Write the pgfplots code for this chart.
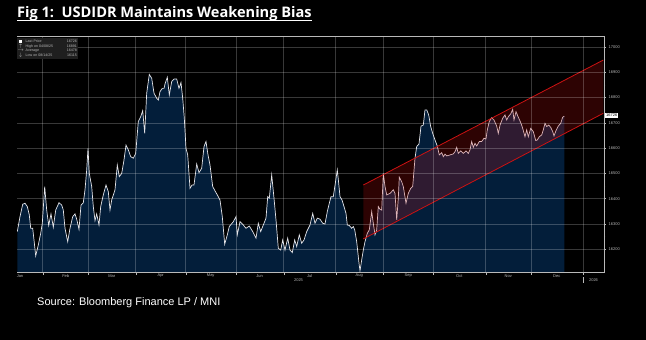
\documentclass[border=0pt]{standalone}
\usepackage{fontspec}
\setmainfont{Liberation Sans}
\newfontfamily\titlefont{Open Sans}
\usepackage{graphicx}
\usepackage{pgfplots}
\pgfplotsset{compat=1.18}
\usepackage{pgfplotstable}
\definecolor{navy}{RGB}{3,30,58}
\definecolor{linecol}{RGB}{228,228,232}
\definecolor{chred}{RGB}{205,18,18}
\definecolor{lblgray}{RGB}{185,185,185}

\pgfplotstableread{
x y
17.3 16270
20 16329
22.7 16378
25 16382
27.3 16369
29.3 16336
30.7 16283
32.7 16283
34 16237
35.7 16174
38.3 16217
40.7 16263
42.3 16303
44.7 16448
46.7 16355
48.7 16294
51 16340
53.3 16287
55.7 16355
59 16384
61.7 16375
63.3 16355
65 16283
67.7 16230
70 16283
72.7 16329
75 16340
76.7 16319
79 16279
81 16375
83.3 16384
85 16435
86.7 16514
88 16599
89.3 16500
91.7 16448
93.3 16369
95 16313
96.7 16340
99 16296
100.7 16369
103.3 16415
106 16454
108.3 16428
110 16355
111.7 16395
115 16435
117.3 16533
119.3 16487
121.7 16500
124 16553
126 16612
128.3 16593
130.7 16566
133.3 16560
135.7 16579
138.3 16705
140.7 16724
142.7 16748
144.7 16658
146.7 16817
149.3 16891
151.7 16876
154 16817
156.7 16797
158.3 16790
160 16823
162.3 16836
164 16836
165 16853
167.3 16880
169.3 16810
171.7 16863
174 16873
176.7 16873
179 16836
181 16859
182.7 16797
184.3 16718
186 16599
187.7 16573
190 16441
192 16454
194 16454
196.7 16537
199 16503
201.7 16520
204 16606
206 16626
208 16573
210 16533
212.7 16448
215 16431
217.3 16415
220 16395
222.3 16329
224.7 16220
227.3 16257
229.3 16290
233.3 16309
236 16329
237.3 16257
240 16309
243.3 16296
246 16283
249.3 16292
252.7 16270
256 16244
258.3 16303
260.7 16270
263.3 16296
266 16323
267.7 16408
269.3 16402
271.7 16494
274 16402
276 16316
278.3 16204
280.7 16197
282.7 16237
285 16197
287.7 16244
290 16197
292.3 16187
294.7 16237
296.7 16211
299.3 16257
301.7 16224
304 16237
306.7 16270
310 16296
312.7 16342
315 16303
317.3 16323
320 16319
322.7 16303
325 16300
327.3 16349
329.3 16382
331 16408
333.3 16408
335.3 16461
337.3 16514
338.7 16461
340 16408
342 16395
344 16369
346 16342
347.3 16296
349.3 16294
351.7 16283
353.3 16290
354.7 16277
356.7 16230
359 16145
360 16115
361.7 16158
363.3 16197
365 16230
367.3 16263
369.3 16277
371.7 16349
373.3 16303
375 16257
376.7 16277
378.3 16369
380 16358
381.7 16355
383.3 16500
385 16448
386.7 16415
390 16421
393.3 16435
395 16421
396.7 16316
398.3 16402
399.3 16485
401.7 16467
403.3 16448
406 16382
408.3 16421
410.7 16441
412.7 16448
415 16560
416.7 16606
419 16616
421 16687
423.3 16691
425 16751
426.7 16751
428.7 16731
430.7 16685
432.7 16658
435 16632
437.3 16608
439.3 16573
441.7 16582
443.3 16566
445 16576
446.7 16569
450 16573
453.3 16577
455 16586
456.7 16603
458.3 16579
460.7 16589
463.3 16579
466 16589
468.3 16579
470 16593
471.7 16626
473.3 16603
475 16619
476.7 16608
479.3 16626
481.7 16626
484 16639
486 16636
487.3 16672
489.3 16705
491.7 16720
494 16711
496.7 16687
498.3 16658
500 16691
502.7 16718
505 16731
506.7 16711
508.3 16724
510.7 16735
512.7 16753
514 16711
516 16744
518.3 16722
520.7 16701
522.7 16678
525 16645
526.7 16672
528.3 16645
530.7 16678
533.3 16665
535.7 16630
537.3 16632
539.3 16645
541.7 16652
543.3 16672
545 16698
546.7 16685
548.7 16691
550.7 16682
552.7 16665
554 16648
556 16669
558.3 16687
560.7 16698
562.7 16722
564.3 16726
}\idr

\begin{document}
\begin{tikzpicture}[x=1pt,y=1pt]
\fill[black] (0,0) rectangle (646,340);
\useasboundingbox (0,0) rectangle (646,340);
\begin{axis}[
  at={(17pt,67.3pt)}, anchor=south west,
  scale only axis, width=587pt, height=236.7pt,
  xmin=17, xmax=604, ymin=16107.5, ymax=17043,
  axis x line*=bottom, axis y line*=right,
  axis line style={draw=lblgray, line width=0.6pt},
  xtick={42.7,88.3,135.7,185.7,236,283.7,335.7,383.3,433.3,485.7,531.3,583.3},
  xticklabel=\empty,
  ytick={16200,16300,16400,16500,16600,16700,16800,16900,17000},
  minor ytick={16150,16250,16350,16450,16550,16650,16750,16850,16950},
  scaled y ticks=false,
  yticklabel style={font=\fontsize{4}{4}\selectfont, text=lblgray, /pgf/number format/1000 sep={}, /pgf/number format/assume math mode=true, xshift=-1pt},
  grid=major,
  major grid style={white, opacity=0.22, line width=0.5pt},
  tick align=outside, major tick length=2.2pt, minor tick length=1.4pt,
  tick style={lblgray, line width=0.4pt},
  axis on top,
]
\addplot[draw=none, fill=navy] table[x=x,y=y]{\idr} \closedcycle;
\addplot[linecol, line width=0.7pt] table[x=x,y=y]{\idr};
\addplot[draw=none, fill=chred, fill opacity=0.22] coordinates {(363.3,16241) (603.3,16737.5) (603.3,16948) (363.3,16454)} -- cycle;
\addplot[chred, line width=0.8pt] coordinates {(363.3,16454) (603.3,16948)};
\addplot[chred, line width=0.8pt] coordinates {(363.3,16241) (603.3,16737.5)};
\end{axis}
% top frame line
\draw[lblgray, line width=0.6pt] (17,304) -- (604,304);
% title
\node[anchor=base west, inner sep=0, text=white] at (17,322.7) {\resizebox{294.4pt}{!}{\titlefont\bfseries\fontsize{13.5}{13.5}\selectfont Fig 1:\ \ USDIDR Maintains Weakening Bias}};
\draw[white, line width=1pt] (17,319.3) -- (311.7,319.3);
% month labels
\foreach \x/\m in {20/Jan,65.7/Feb,111.7/Mar,160.7/Apr,210.7/May,259.7/Jun,309.7/Jul,359.3/Aug,408.3/Sep,459.3/Oct,508.3/Nov,556.7/Dec}
  \node[font=\fontsize{4}{4}\selectfont, text=lblgray, inner sep=0] at (\x,64.3) {\m};
\node[font=\fontsize{4}{4}\selectfont, text=lblgray, inner sep=0] at (298.5,59.5) {2025};
\node[font=\fontsize{4}{4}\selectfont, text=lblgray, inner sep=0] at (593.5,59.5) {2026};
\draw[lblgray, line width=0.4pt] (583.3,57) -- (583.3,62.5);
% last price tag
\node[fill=white, text=black, font=\fontsize{4}{4}\selectfont, inner sep=0.9pt, anchor=west] at (605,224.5) {16726};
% legend box
\fill[black!88!white] (17,302) rectangle (78,281);
\fill[white] (19,296.6) rectangle (22.4,300);
\begin{scope}[every node/.style={font=\fontsize{3.6}{3.6}\selectfont, text=lblgray, inner sep=0}]
\node[anchor=west] at (25.5,298.3) {Last Price};
\node[anchor=east] at (77,298.3) {16726};
\node at (20.7,293.8) {$\uparrow$};
\node[anchor=west] at (25.5,293.8) {High on 04/08/25};
\node[anchor=east] at (77,293.8) {16891};
\node at (20.7,289.3) {$\rightarrow$};
\node[anchor=west] at (25.5,289.3) {Average};
\node[anchor=east] at (77,289.3) {16478};
\node at (20.7,284.8) {$\downarrow$};
\node[anchor=west] at (25.5,284.8) {Low on 08/14/25};
\node[anchor=east] at (77,284.8) {16115};
\end{scope}
% source
\node[anchor=base west, inner sep=0, text=white, font=\fontsize{11}{11}\selectfont] at (37,34.3) {Source: Bloomberg Finance LP / MNI};
\end{tikzpicture}
\end{document}
